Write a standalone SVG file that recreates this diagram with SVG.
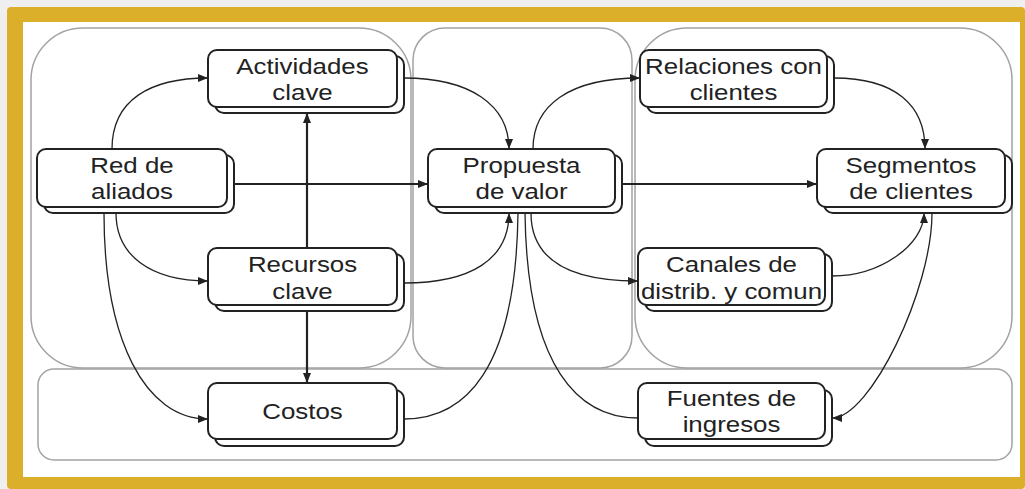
<svg xmlns="http://www.w3.org/2000/svg" width="1025" height="489" viewBox="0 0 1025 489">
<style>
.panel{fill:none;stroke:#a3a3a3;stroke-width:1.5}
.nb{fill:#fff;stroke:#222;stroke-width:2}
.lbl{font-family:"Liberation Sans",Arial,sans-serif;font-size:22.5px;fill:#222;text-anchor:middle}
.c{fill:none;stroke:#222;stroke-width:1.3}
.t{fill:none;stroke:#222;stroke-width:2.2}
</style>
<defs>
<marker id="ar" viewBox="0 0 10 8" refX="10" refY="4" markerWidth="10" markerHeight="8" markerUnits="userSpaceOnUse" orient="auto">
<path d="M0,0 L10,4 L0,8 z" fill="#222"/>
</marker>
</defs>
<rect x="0" y="0" width="1025" height="489" fill="#efefef"/>
<rect x="7" y="7" width="1018" height="482" rx="4" fill="#dbaf2a"/>
<rect x="23" y="22" width="997" height="455" fill="#fff"/>
<g id="panels">
<rect class="panel" x="31" y="28" width="380" height="340" rx="52"/>
<rect class="panel" x="413" y="28" width="219" height="340" rx="32"/>
<rect class="panel" x="635" y="28" width="377" height="340" rx="52"/>
<rect class="panel" x="38" y="369" width="974" height="91" rx="16"/>
</g>
<g id="node-actividades">
<rect class="nb" x="215" y="56" width="189" height="57" rx="9"/>
<rect class="nb" x="208" y="50" width="189" height="57" rx="9"/>
<g transform="translate(302.5,0) scale(1.15,1)"><text class="lbl" x="0" y="74">Actividades</text><text class="lbl" x="0" y="100">clave</text></g>
</g>
<g id="node-red">
<rect class="nb" x="44" y="155" width="190" height="58" rx="9"/>
<rect class="nb" x="37" y="149" width="190" height="58" rx="9"/>
<g transform="translate(132,0) scale(1.15,1)"><text class="lbl" x="0" y="173.5">Red de</text><text class="lbl" x="0" y="199.5">aliados</text></g>
</g>
<g id="node-propuesta">
<rect class="nb" x="435" y="155" width="187" height="58" rx="9"/>
<rect class="nb" x="428" y="149" width="187" height="58" rx="9"/>
<g transform="translate(521.5,0) scale(1.15,1)"><text class="lbl" x="0" y="173.5">Propuesta</text><text class="lbl" x="0" y="199.5">de valor</text></g>
</g>
<g id="node-relaciones">
<rect class="nb" x="647" y="56" width="187" height="57" rx="9"/>
<rect class="nb" x="640" y="50" width="187" height="57" rx="9"/>
<g transform="translate(733.5,0) scale(1.15,1)"><text class="lbl" x="0" y="74">Relaciones con</text><text class="lbl" x="0" y="100">clientes</text></g>
</g>
<g id="node-segmentos">
<rect class="nb" x="824" y="155" width="188" height="58" rx="9"/>
<rect class="nb" x="817" y="149" width="188" height="58" rx="9"/>
<g transform="translate(911,0) scale(1.15,1)"><text class="lbl" x="0" y="173.5">Segmentos</text><text class="lbl" x="0" y="199.5">de clientes</text></g>
</g>
<g id="node-recursos">
<rect class="nb" x="215" y="254" width="189" height="57" rx="9"/>
<rect class="nb" x="208" y="248" width="189" height="57" rx="9"/>
<g transform="translate(302.5,0) scale(1.15,1)"><text class="lbl" x="0" y="272.5">Recursos</text><text class="lbl" x="0" y="299">clave</text></g>
</g>
<g id="node-canales">
<rect class="nb" x="645" y="254" width="187" height="57" rx="9"/>
<rect class="nb" x="638" y="248" width="187" height="57" rx="9"/>
<g transform="translate(731.5,0) scale(1.15,1)"><text class="lbl" x="0" y="272.5">Canales de</text><text class="lbl" x="0" y="299.5">distrib. y comun</text></g>
</g>
<g id="node-costos">
<rect class="nb" x="215" y="390" width="189" height="56" rx="9"/>
<rect class="nb" x="208" y="383" width="189" height="56" rx="9"/>
<g transform="translate(302.5,0) scale(1.15,1)"><text class="lbl" x="0" y="419">Costos</text></g>
</g>
<g id="node-fuentes">
<rect class="nb" x="645" y="390" width="187" height="56" rx="9"/>
<rect class="nb" x="638" y="383" width="187" height="56" rx="9"/>
<g transform="translate(731.5,0) scale(1.15,1)"><text class="lbl" x="0" y="406">Fuentes de</text><text class="lbl" x="0" y="432">ingresos</text></g>
</g>
<g id="connectors">
<path class="c" d="M112,149 C112,100 150,78 208,78" marker-end="url(#ar)"/>
<path class="c" d="M116,213 C116,255 150,281 208,281" marker-end="url(#ar)"/>
<path class="c" d="M104,213 C104,340 145,419 208,419" marker-end="url(#ar)"/>
<path class="t" d="M234,184 H428" marker-end="url(#ar)"/>
<path class="t" d="M307,248 V113" marker-end="url(#ar)"/>
<path class="t" d="M307,311 V383" marker-end="url(#ar)"/>
<path class="c" d="M404,78 C470,78 509,105 509,149" marker-end="url(#ar)"/>
<path class="c" d="M533,149 C533,105 570,78 640,78" marker-end="url(#ar)"/>
<path class="t" d="M622,184 H817" marker-end="url(#ar)"/>
<path class="c" d="M834,78 C895,78 925,105 925,149" marker-end="url(#ar)"/>
<path class="c" d="M404,283 C470,283 509,260 509,213" marker-end="url(#ar)"/>
<path class="c" d="M531,213 C531,260 570,281 638,281" marker-end="url(#ar)"/>
<path class="c" d="M404,419 C465,419 516,370 518,213"/>
<path class="c" d="M638,418 C580,418 527,370 525,213"/>
<path class="c" d="M832,276 C880,276 924,245 924,213" marker-end="url(#ar)"/>
<path class="c" d="M932,213 C932,290 870,418 832,418" marker-end="url(#ar)"/>
</g>
</svg>
